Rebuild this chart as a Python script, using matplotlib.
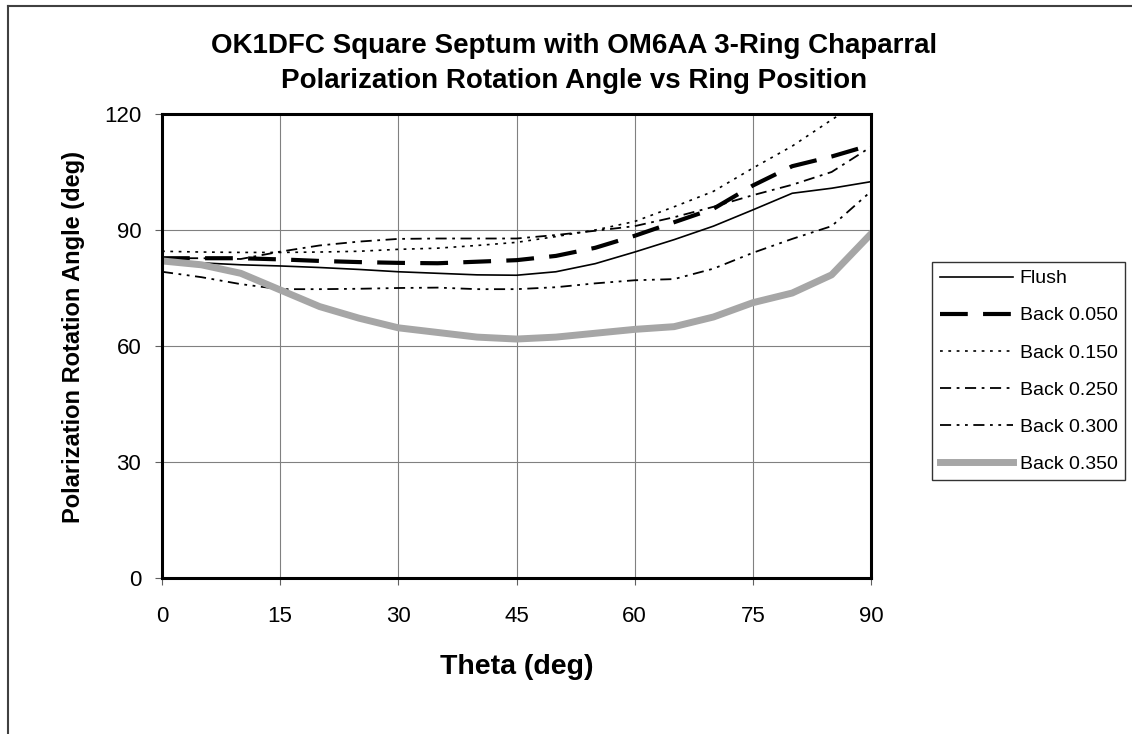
import numpy as np
import matplotlib.pyplot as plt
from matplotlib.lines import Line2D

# --- Style setup ---
plt.rcParams.update({
    'font.family': ['Liberation Sans', 'DejaVu Sans'],
    'lines.scale_dashes': False,
})

# Data
theta = [0, 5, 10, 15, 20, 25, 30, 35, 40, 45, 50, 55, 60, 65, 70, 75, 80, 85, 90]
flush = [82, 81.5, 81, 80.7, 80.3, 79.8, 79.2, 78.8, 78.4, 78.3, 79.2, 81.3, 84.3,
         87.5, 91, 95.2, 99.5, 100.8, 102.5]
back_050 = [82.7, 82.7, 82.7, 82.4, 82, 81.7, 81.5, 81.4, 81.8, 82.2, 83.3, 85.4, 88.5,
            92, 95.5, 101.5, 106.5, 109, 112]
back_150 = [84.5, 84.3, 84.2, 84.2, 84.3, 84.5, 85, 85.3, 86, 86.8, 88.3, 90, 92.2,
            96, 100, 106, 111.7, 118.5, 125]
back_250 = [82.7, 82.7, 82.5, 84.4, 86, 87, 87.7, 87.8, 87.8, 87.8, 88.7, 89.8, 91,
            93.3, 96, 99, 101.7, 105, 111.5]
back_300 = [79.2, 77.8, 76, 74.7, 74.7, 74.8, 75, 75.1, 74.7, 74.7, 75.2, 76.2, 77,
            77.3, 80, 84.1, 87.7, 91, 100]
back_350 = [82, 81, 78.8, 74.5, 70.2, 67.2, 64.7, 63.5, 62.3, 61.8, 62.3, 63.3, 64.3,
            65, 67.5, 71.2, 73.7, 78.4, 89]

labels = ['Flush', 'Back 0.050', 'Back 0.150', 'Back 0.250', 'Back 0.300', 'Back 0.350']
xticks = [0, 15, 30, 45, 60, 75, 90]
yticks = [0, 30, 60, 90, 120]

fig = plt.figure(figsize=(11.32, 7.34), dpi=100)
ax = fig.add_axes([162 / 1132, 1 - 578 / 734, 709 / 1132, 464 / 734])

ax.plot(theta, flush, color='black', lw=1.2, label=labels[0])
ax.plot(theta, back_050, color='black', lw=3, dashes=(20, 11), label=labels[1])
ax.plot(theta, back_150, color='black', lw=1.2, dashes=(2, 4), label=labels[2])
ax.plot(theta, back_250, color='black', lw=1.3, dashes=(8, 4, 2, 4), label=labels[3])
ax.plot(theta, back_300, color='black', lw=1.3, dashes=(8, 4, 2, 4, 2, 4), label=labels[4])
ax.plot(theta, back_350, color='#a6a6a6', lw=5, label=labels[5])

ax.set_xlim(0, 90)
ax.set_ylim(0, 120)
ax.set_xticks(xticks)
ax.set_yticks(yticks)
ax.grid(True, color='#808080', lw=0.8)
ax.set_axisbelow(True)
for sp in ax.spines.values():
    sp.set_linewidth(2.2)
ax.tick_params(direction='out', length=5, width=0.8, color='#606060', labelsize=16)
ax.tick_params(axis='x', pad=15)
ax.tick_params(axis='y', pad=10)

ax.set_xlabel('Theta (deg)', fontsize=20.5, fontweight='bold', va='center')
ax.xaxis.set_label_coords(0.5, (578 - 667) / 464)
ax.set_ylabel('Polarization Rotation Angle (deg)', fontsize=17, fontweight='bold', va='center')
ax.yaxis.set_label_coords((74 - 162) / 709, 0.52)
fig.text(574 / 1132, 1 - 63.5 / 734,
         'OK1DFC Square Septum with OM6AA 3-Ring Chaparral\nPolarization Rotation Angle vs Ring Position',
         ha='center', va='center', fontsize=20, fontweight='bold', linespacing=1.42)

leg = ax.legend(loc='upper left', bbox_to_anchor=(932 / 1132, 1 - 262 / 734),
                bbox_transform=fig.transFigure, fontsize=14, frameon=True,
                fancybox=False, edgecolor='black', handlelength=3.75,
                handletextpad=0.35, labelspacing=1.0, borderpad=0.4,
                borderaxespad=0)
leg.get_frame().set_linewidth(1.0)

# outer chart frame (left and top edges visible)
fig.add_artist(Line2D([8 / 1132, 8 / 1132], [0, 1 - 6 / 734], color='#404040', lw=1.5,
                      transform=fig.transFigure))
fig.add_artist(Line2D([8 / 1132, 1], [1 - 6 / 734, 1 - 6 / 734], color='#404040', lw=1.5,
                      transform=fig.transFigure))

fig.savefig('out.png', dpi=100)
